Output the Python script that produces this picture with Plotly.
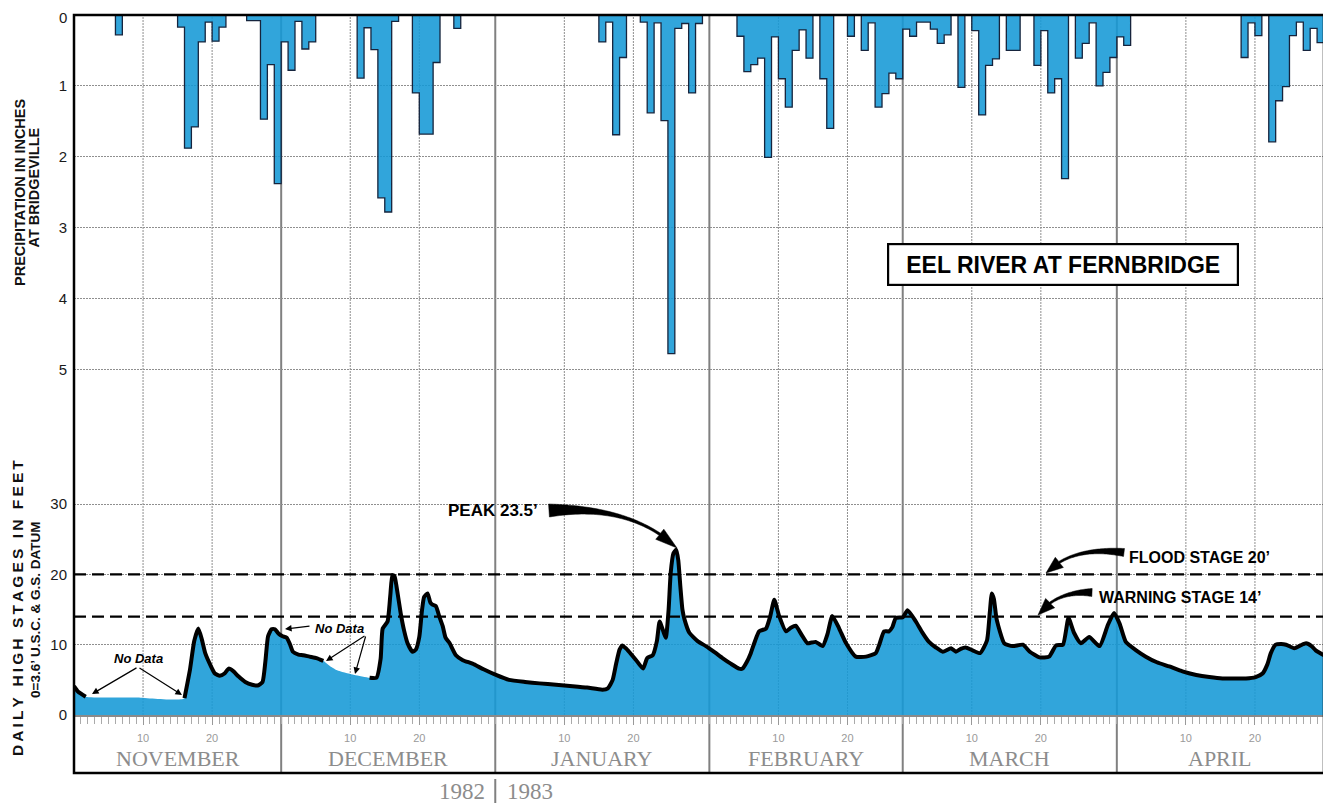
import math
import pandas as pd
import plotly.graph_objects as go

# ---------------- data ----------------
SEASON_START = pd.Timestamp("1982-11-01")
N_DAYS = 181

precip_dates = [
    "1982-11-07",
    "1982-11-16", "1982-11-17", "1982-11-18", "1982-11-19", "1982-11-20", "1982-11-21", "1982-11-22",
    "1982-11-26", "1982-11-27", "1982-11-28", "1982-11-29", "1982-11-30",
    "1982-12-01", "1982-12-02", "1982-12-03", "1982-12-04", "1982-12-05",
    "1982-12-12", "1982-12-13", "1982-12-14", "1982-12-15", "1982-12-16", "1982-12-17",
    "1982-12-20", "1982-12-21", "1982-12-22", "1982-12-23", "1982-12-26",
    "1983-01-16", "1983-01-17", "1983-01-18", "1983-01-19",
    "1983-01-22", "1983-01-23", "1983-01-24", "1983-01-25", "1983-01-26", "1983-01-27",
    "1983-01-28", "1983-01-29", "1983-01-30",
    "1983-02-05", "1983-02-06", "1983-02-07", "1983-02-08", "1983-02-09", "1983-02-10",
    "1983-02-11", "1983-02-12", "1983-02-13", "1983-02-14", "1983-02-15", "1983-02-17", "1983-02-18",
    "1983-02-21", "1983-02-23", "1983-02-24", "1983-02-25", "1983-02-26", "1983-02-27", "1983-02-28",
    "1983-03-01", "1983-03-02", "1983-03-03", "1983-03-04", "1983-03-05", "1983-03-06", "1983-03-07",
    "1983-03-09", "1983-03-11", "1983-03-12", "1983-03-13", "1983-03-14", "1983-03-16", "1983-03-17",
    "1983-03-20", "1983-03-21", "1983-03-22", "1983-03-23", "1983-03-24",
    "1983-03-26", "1983-03-27", "1983-03-28", "1983-03-29", "1983-03-30", "1983-03-31",
    "1983-04-01", "1983-04-02",
    "1983-04-19", "1983-04-20", "1983-04-21",
    "1983-04-23", "1983-04-24", "1983-04-25", "1983-04-26", "1983-04-27", "1983-04-28",
    "1983-04-29", "1983-04-30",
]
precip_in = [
    0.28,
    0.17, 1.88, 1.58, 0.38, 0.10, 0.37, 0.17,
    0.08, 0.08, 1.47, 0.70, 2.38,
    0.38, 0.78, 0.09, 0.48, 0.38,
    0.89, 0.18, 0.49, 2.58, 2.78, 0.09,
    1.10, 1.68, 1.68, 0.67, 0.19,
    0.38, 0.10, 1.69, 0.60,
    0.10, 1.38, 0.11, 1.49, 4.78, 0.19,
    0.12, 1.10, 0.12,
    0.30, 0.80, 0.70, 0.61, 2.01, 0.31,
    0.90, 1.30, 0.50, 0.21, 0.61, 0.90, 1.60,
    0.30, 0.50, 0.11, 1.30, 1.11, 0.82, 0.90,
    0.20, 0.30, 0.10, 0.10, 0.20, 0.40, 0.28,
    1.02, 0.22, 1.41, 0.71, 0.62, 0.50, 0.50,
    0.71, 0.22, 1.10, 0.90, 2.31,
    0.61, 0.40, 0.11, 1.00, 0.81, 0.60,
    0.31, 0.43,
    0.60, 0.11, 0.29,
    1.79, 1.21, 1.01, 0.29, 0.10, 0.50,
    0.19, 0.39,
]

# daily high stage (ft) read along the season, x = days after 1 Nov 1982
stage_day = [
    0.0, 0.6, 1.7, 9.0, 16.0, 16.8, 17.4, 18.0, 18.5, 19.0, 19.8, 20.4, 21.1, 21.8, 22.4, 23.1,
    23.8, 24.8, 25.8, 26.6, 27.3, 27.7, 28.1, 28.6, 29.1, 29.6,
    30.2, 30.8, 31.3, 31.7, 32.5, 33.2, 34.1, 35.1, 36.1, 37.0, 38.0, 39.3, 40.6, 42.8, 43.8,
    44.4, 44.7, 45.4, 45.8, 46.1, 46.4, 46.7, 47.3, 47.8, 48.3, 49.0, 49.5, 50.0, 50.4, 50.7,
    51.2, 51.6, 51.9, 52.4, 52.9, 53.4, 53.8, 54.4, 55.3, 56.3, 57.7, 59.3,
    61.1, 63.0, 65.3, 67.4, 69.8, 72.2, 74.3, 76.5, 77.3, 78.0, 78.5, 79.0, 79.4, 80.0, 80.8,
    81.4, 82.4, 83.0, 83.8, 84.4, 84.8, 85.4, 85.7, 86.1, 86.4, 86.8, 87.2, 87.5, 87.8, 88.1,
    88.4, 89.1, 90.3, 91.5,
    92.8, 93.9, 95.1, 96.3, 96.8, 97.4, 98.0, 98.6, 99.2, 100.2, 100.8, 101.4, 102.1, 103.1,
    103.8, 104.5, 105.3, 106.2, 106.8, 107.4, 108.4, 109.1, 109.8, 110.8, 111.8, 113.2, 114.7,
    116.1, 116.6, 117.3, 118.0, 118.5, 119.0,
    120.0, 120.7, 121.9, 122.8, 123.8, 124.8, 125.8, 127.0, 127.7, 128.4, 129.1, 130.1, 131.2,
    132.2, 132.6, 132.9, 133.2, 133.6, 134.7, 135.9, 137.4, 138.4, 139.8, 141.2, 142.2, 143.2,
    144.0, 144.8, 145.8, 147.0, 148.5, 149.7, 150.6,
    151.4, 152.3, 153.8, 155.2, 156.8, 158.6, 160.5, 162.5, 164.4, 166.3, 168.1, 169.7, 171.1,
    172.1, 172.8, 173.3, 174.0, 174.8, 175.5, 176.7, 177.6, 178.4, 179.2, 179.8, 181.0,
]
stage_ft = [
    4.1, 3.3, 2.6, 2.5, 2.4, 6.5, 10.5, 12.3, 10.8, 8.8, 7.0, 5.9, 5.6, 5.9, 6.6, 6.2,
    5.5, 4.7, 4.3, 4.2, 4.7, 7.5, 11.2, 12.2, 12.2, 11.6,
    11.2, 11.0, 10.0, 9.0, 8.6, 8.5, 8.3, 8.1, 7.7, 7.0, 6.4, 6.0, 5.7, 5.3, 5.3,
    8.0, 12.3, 13.3, 17.0, 19.9, 19.8, 18.3, 14.5, 12.0, 10.2, 9.0, 9.3, 11.1, 15.0, 16.8,
    17.3, 16.0, 15.7, 15.5, 14.0, 12.6, 11.0, 10.2, 8.5, 7.8, 7.3, 6.5,
    5.7, 5.0, 4.7, 4.5, 4.3, 4.1, 3.9, 3.6, 3.8, 5.0, 7.3, 9.3, 9.9, 9.4, 8.5,
    7.8, 6.6, 8.1, 8.5, 10.5, 13.3, 11.7, 11.0, 15.0, 20.2, 23.0, 23.5, 22.0, 18.3, 15.0,
    13.6, 11.7, 10.5, 9.8,
    8.9, 8.1, 7.3, 6.6, 6.6, 7.5, 8.8, 10.5, 11.9, 12.3, 14.0, 16.4, 14.1, 11.9,
    12.4, 12.7, 11.5, 10.2, 10.3, 10.4, 9.8, 11.5, 14.1, 12.3, 10.2, 8.3, 8.3,
    8.8, 10.0, 11.9, 11.9, 12.5, 13.8,
    13.9, 14.9, 13.3, 11.8, 10.4, 9.6, 9.0, 9.5, 9.0, 9.4, 9.6, 9.2, 8.8,
    10.6, 14.5, 17.3, 16.5, 13.6, 10.2, 9.8, 10.0, 9.0, 8.2, 8.3, 9.9, 10.0,
    13.8, 11.7, 10.2, 11.1, 9.8, 12.8, 14.5,
    13.0, 10.4, 9.2, 8.3, 7.5, 6.9, 6.2, 5.7, 5.4, 5.2, 5.2, 5.2, 5.4,
    5.9, 7.2, 8.8, 10.0, 10.1, 10.0, 9.5, 9.9, 10.2, 9.8, 9.2, 8.5,
]
no_data_spans = [(1.7, 16.0), (36.1, 42.8)]

FLOOD_STAGE = 20
WARNING_STAGE = 14
PEAK_STAGE = 23.5

month_names = ["NOVEMBER", "DECEMBER", "JANUARY", "FEBRUARY", "MARCH", "APRIL"]
month_start_day = [0, 30, 61, 92, 120, 151, 181]
day_marks = [10, 20]
precip_ticks = [0, 1, 2, 3, 4, 5]
stage_ticks = [0, 10, 20, 30]

# ---------------- geometry (page pixels) ----------------
PAGE_OFF = 8                # the html body margin
FIG_W, FIG_H = 1331 - PAGE_OFF, 806 - PAGE_OFF
PLOT_LEFT, PLOT_TOP = 74, 15          # page px
PW, PH = 1250, 700                    # plot area (stage 0 at bottom)
STAGE0_Y = PLOT_TOP + PH              # 715
BOX_BOTTOM = 773
PX_PER_DAY = PW / N_DAYS
PX_PER_FT = 7.03
PX_PER_IN = 70.86
STAGE_TOP = PH / PX_PER_FT
PRECIP_BOTTOM = PH / PX_PER_IN

BLUE = "rgba(20,152,214,0.88)"
NAVY = "#16243d"
GRID = "#8f8f8f"
MONTH_GRID = "#808080"
GREY_TXT = "#8c8c8c"
TICK_FONT = dict(family="Liberation Sans", size=15, color="#1a1a1a")


def px2d(px, py):
    return (px - PLOT_LEFT) / PX_PER_DAY, (STAGE0_Y - py) / PX_PER_FT


def py2paper(py):
    return (STAGE0_Y - py) / PH


def px2paper(px):
    return (px - PLOT_LEFT) / PW


# daily precipitation series
daily = [0.0] * N_DAYS
for d, v in zip(precip_dates, precip_in):
    daily[(pd.Timestamp(d) - SEASON_START).days] = v

fig = go.Figure()

# precipitation (stepped bars hanging from the top)
fig.add_trace(go.Scatter(
    x=list(range(N_DAYS)) + [N_DAYS], y=daily + [daily[-1]], yaxis="y2",
    mode="lines", line=dict(color=NAVY, width=1.3, shape="hv"),
    fill="tozeroy", fillcolor=BLUE, hoverinfo="skip", showlegend=False))

# stage area
fig.add_trace(go.Scatter(
    x=stage_day, y=stage_ft, mode="lines",
    line=dict(width=0, shape="spline", smoothing=0.5, color="rgba(0,0,0,0)"),
    fill="tozeroy", fillcolor=BLUE, hoverinfo="skip", showlegend=False))

# stage line with breaks where there is no data
line_y = [None if any(a < d < b for a, b in no_data_spans) else v
          for d, v in zip(stage_day, stage_ft)]
fig.add_trace(go.Scatter(
    x=stage_day, y=line_y, mode="lines", connectgaps=False,
    line=dict(color="black", width=4, shape="spline", smoothing=0.5),
    hoverinfo="skip", showlegend=False))

# flood and warning stage
for lvl in (FLOOD_STAGE, WARNING_STAGE):
    fig.add_trace(go.Scatter(
        x=[0, N_DAYS], y=[lvl, lvl], mode="lines",
        line=dict(color="black", width=2.2, dash="12px,6px"),
        hoverinfo="skip", showlegend=False))

shapes = []
# vertical grid lines
for m0 in month_start_day[1:-1]:
    shapes.append(dict(type="line", xref="x", yref="paper", x0=m0, x1=m0,
                       y0=py2paper(BOX_BOTTOM), y1=1, layer="below",
                       line=dict(color=MONTH_GRID, width=2)))
for m0 in month_start_day[:-1]:
    for dm in day_marks:
        shapes.append(dict(type="line", xref="x", yref="paper", x0=m0 + dm, x1=m0 + dm,
                           y0=0, y1=1, layer="below", line=dict(color=GRID, width=1, dash="2px,1px")))
# frame
shapes.append(dict(type="rect", xref="paper", yref="paper", x0=0, x1=1,
                   y0=py2paper(BOX_BOTTOM), y1=1, layer="above",
                   line=dict(color="black", width=2.5)))
# year divider below the frame
shapes.append(dict(type="line", xref="x", yref="paper", x0=month_start_day[2], x1=month_start_day[2],
                   y0=py2paper(779), y1=py2paper(803), line=dict(color=MONTH_GRID, width=2)))


def tapered_arrow(p0, p1, p2, w0, w1, head_len, head_w, power=2.0, n=40):
    def bz(t):
        return ((1 - t) ** 2 * p0[0] + 2 * (1 - t) * t * p1[0] + t * t * p2[0],
                (1 - t) ** 2 * p0[1] + 2 * (1 - t) * t * p1[1] + t * t * p2[1])
    tb = 1.0
    for k in range(1000, 0, -1):
        x, y = bz(k / 1000)
        if math.hypot(x - p2[0], y - p2[1]) >= head_len:
            tb = k / 1000
            break
    left, right = [], []
    for i in range(n + 1):
        s = i / n
        t = tb * s
        x, y = bz(t)
        dx = 2 * (1 - t) * (p1[0] - p0[0]) + 2 * t * (p2[0] - p1[0])
        dy = 2 * (1 - t) * (p1[1] - p0[1]) + 2 * t * (p2[1] - p1[1])
        ln = math.hypot(dx, dy)
        nx, ny = -dy / ln, dx / ln
        w = w1 + (w0 - w1) * (1 - s) ** power
        left.append((x + nx * w / 2, y + ny * w / 2))
        right.append((x - nx * w / 2, y - ny * w / 2))
    bx, by = bz(tb)
    dx, dy = p2[0] - bx, p2[1] - by
    ln = math.hypot(dx, dy)
    nx, ny = -dy / ln, dx / ln
    hl = (bx + nx * head_w / 2, by + ny * head_w / 2)
    hr = (bx - nx * head_w / 2, by - ny * head_w / 2)
    pts = left + [hl, p2, hr] + right[::-1]
    path = "M " + " L ".join("{:.4f},{:.4f}".format(*px2d(x, y)) for x, y in pts) + " Z"
    return dict(type="path", path=path, xref="x", yref="y", fillcolor="black",
                line=dict(color="black", width=0.5), layer="above")


shapes.append(tapered_arrow((549, 510.5), (632, 505), (677, 548), 13, 2.5, 22, 13, power=2.5))
shapes.append(tapered_arrow((1124, 552.5), (1072, 546), (1046, 573), 8, 2.2, 17, 13, power=2.0))
shapes.append(tapered_arrow((1092, 592.5), (1056, 591), (1038, 615), 8, 2.2, 17, 13, power=2.0))

annotations = []
BOLD = "Liberation Sans"


def text_px(px, py, text, size, xanchor="center", color="black", family=BOLD, weight="bold",
            style="normal"):
    x, y = px2d(px, py)
    annotations.append(dict(x=x, y=y, xref="x", yref="y", text=text, showarrow=False,
                            xanchor=xanchor, yanchor="middle",
                            font=dict(family=family, size=size, color=color, weight=weight,
                                      style=style)))


text_px(540, 510, "PEAK 23.5’", 17, xanchor="right")
text_px(1127, 557, "FLOOD STAGE 20’", 16, xanchor="left")
text_px(1097, 597, "WARNING STAGE 14’", 16, xanchor="left")
text_px(138, 658, "No Data", 13, style="italic")
text_px(339, 628, "No Data", 13, style="italic")


def thin_arrow(tail, tip):
    tx, ty = px2d(*tip)
    ax, ay = px2d(*tail)
    annotations.append(dict(x=tx, y=ty, ax=ax, ay=ay, xref="x", yref="y", axref="x", ayref="y",
                            text="", showarrow=True, arrowhead=2, arrowsize=1.1,
                            arrowwidth=1.2, arrowcolor="black"))


thin_arrow((138, 667), (92, 694))
thin_arrow((138, 667), (182, 695))
thin_arrow((311, 626), (285, 629))
thin_arrow((366, 635), (326, 661))
thin_arrow((366, 635), (355, 674))

# title box
cx, cy = px2d(1063, 264)
annotations.append(dict(x=cx, y=cy, xref="x", yref="y", text="EEL RIVER AT FERNBRIDGE",
                        showarrow=False, font=dict(family=BOLD, size=23, color="black", weight="bold"),
                        bordercolor="black", borderwidth=2.2, borderpad=4, bgcolor="white",
                        width=340, height=31))

# top precipitation label "0" (kept inside the page edge)
annotations.append(dict(x=px2paper(68), y=py2paper(PAGE_OFF + 0.5), xref="paper", yref="paper",
                        text=str(precip_ticks[0]), showarrow=False, xanchor="right", yanchor="top",
                        borderpad=0, font=TICK_FONT))

# month names and years
for i, name in enumerate(month_names):
    mid = (month_start_day[i] + month_start_day[i + 1]) / 2
    annotations.append(dict(x=mid, y=py2paper(758), xref="x", yref="paper", text=name,
                            showarrow=False, yanchor="middle",
                            font=dict(family="Liberation Serif", size=22, color=GREY_TXT)))
annotations.append(dict(x=px2paper(487), y=py2paper(791), xref="paper", yref="paper", text="1982",
                        showarrow=False, xanchor="right", yanchor="middle",
                        font=dict(family="Liberation Serif", size=23, color=GREY_TXT)))
annotations.append(dict(x=px2paper(505), y=py2paper(791), xref="paper", yref="paper", text="1983",
                        showarrow=False, xanchor="left", yanchor="middle",
                        font=dict(family="Liberation Serif", size=23, color=GREY_TXT)))

# axis titles
THIN = "\u2009"
spaced_stage_title = THIN.join("DAILY HIGH STAGES IN FEET")
for px, py, txt, size in [
    (20, 193, "PRECIPITATION IN INCHES", 14.5),
    (33.5, 188, "AT BRIDGEVILLE", 14.5),
    (17, 608, spaced_stage_title, 15.5),
    (35, 610, "0=3.6’ U.S.C. &amp; G.S. DATUM", 13.5),
]:
    annotations.append(dict(x=px2paper(px), y=py2paper(py), xref="paper", yref="paper", text=txt,
                            showarrow=False, textangle=-90, xanchor="center", yanchor="middle",
                            font=dict(family=BOLD, size=size, color="#111", weight="bold")))

day_tick_vals = [m0 + dm for m0 in month_start_day[:-1] for dm in day_marks]
day_tick_text = [str(dm) for m0 in month_start_day[:-1] for dm in day_marks]

fig.update_layout(
    width=FIG_W, height=FIG_H,
    margin=dict(l=PLOT_LEFT - PAGE_OFF, r=FIG_W - (PLOT_LEFT - PAGE_OFF) - PW,
                t=PLOT_TOP - PAGE_OFF, b=FIG_H - (PLOT_TOP - PAGE_OFF) - PH, autoexpand=False),
    paper_bgcolor="white", plot_bgcolor="white",
    showlegend=False,
    xaxis=dict(range=[0, N_DAYS], showgrid=False, zeroline=False,
               tickmode="array", tickvals=day_tick_vals, ticktext=day_tick_text,
               ticks="outside", ticklen=8, tickcolor="#999", tickwidth=1,
               ticklabelstandoff=4,
               tickfont=dict(family="Liberation Sans", size=11, color="#9a9a9a"),
               minor=dict(dtick=1, tick0=0, ticks="outside", ticklen=7, tickcolor="#aaa",
                          tickwidth=1, showgrid=False),
               showline=True, linecolor="#8a8a8a", linewidth=1.5),
    yaxis=dict(range=[0, STAGE_TOP], tickmode="array", tickvals=stage_ticks,
               showgrid=True, gridcolor=GRID, gridwidth=1, griddash="2px,1px", zeroline=False,
               ticks="", ticklabelstandoff=6, tickfont=TICK_FONT),
    yaxis2=dict(range=[PRECIP_BOTTOM, 0], overlaying="y", side="left", anchor="x",
                tickmode="array", tickvals=precip_ticks[1:],
                showgrid=True, gridcolor=GRID, gridwidth=1, griddash="2px,1px", zeroline=False,
                ticks="", ticklabelstandoff=6, tickfont=TICK_FONT),
    shapes=shapes,
    annotations=annotations,
)

fig.write_html("out.html")
